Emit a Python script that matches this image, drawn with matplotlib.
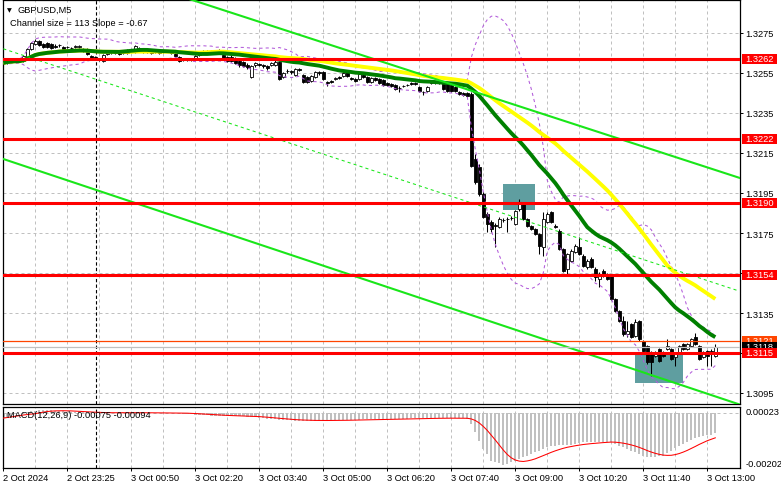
import numpy as np
import pandas as pd
import matplotlib
matplotlib.use("Agg")
import matplotlib.pyplot as plt
from matplotlib.patches import Rectangle

plt.rcParams['font.family'] = ['Liberation Sans', 'DejaVu Sans']

# ---------------- data ----------------
opens = [
1.32610, 1.32600, 1.32610, 1.32610, 1.32615, 1.32610, 1.32630, 1.32670, 1.32695, 1.32710,
1.32695, 1.32700, 1.32695, 1.32685, 1.32690, 1.32680, 1.32680, 1.32675, 1.32680, 1.32680,
1.32670, 1.32670, 1.32635, 1.32630, 1.32620, 1.32610, 1.32645, 1.32655, 1.32660, 1.32655,
1.32650, 1.32650, 1.32665, 1.32655, 1.32675, 1.32665, 1.32655, 1.32660, 1.32660, 1.32660,
1.32655, 1.32660, 1.32655, 1.32645, 1.32630, 1.32620, 1.32620, 1.32620, 1.32625, 1.32640,
1.32650, 1.32660, 1.32655, 1.32660, 1.32650, 1.32640, 1.32630, 1.32630, 1.32625, 1.32610,
1.32605, 1.32590, 1.32530, 1.32590, 1.32595, 1.32590, 1.32585, 1.32590, 1.32590, 1.32605,
1.32530, 1.32560, 1.32560, 1.32540, 1.32570, 1.32540, 1.32530, 1.32510, 1.32530, 1.32555,
1.32555, 1.32505, 1.32510, 1.32520, 1.32530, 1.32535, 1.32560, 1.32525, 1.32520, 1.32520,
1.32540, 1.32530, 1.32505, 1.32525, 1.32520, 1.32515, 1.32500, 1.32495, 1.32490, 1.32475,
1.32485, 1.32490, 1.32500, 1.32500, 1.32480, 1.32455, 1.32460, 1.32500, 1.32500, 1.32505,
1.32505, 1.32500, 1.32490, 1.32480, 1.32455, 1.32450, 1.32450, 1.32445, 1.32120, 1.32080,
1.31945, 1.31845, 1.31805, 1.31790, 1.31780, 1.31815, 1.31820, 1.31825, 1.31795, 1.31870,
1.31895, 1.31820, 1.31785, 1.31770, 1.31745, 1.31680, 1.31805, 1.31855, 1.31785, 1.31760,
1.31670, 1.31570, 1.31610, 1.31655, 1.31680, 1.31635, 1.31580, 1.31620, 1.31570, 1.31520,
1.31560, 1.31545, 1.31535, 1.31420, 1.31360, 1.31310, 1.31245, 1.31295, 1.31235, 1.31310,
1.31210, 1.31185, 1.31155, 1.31135, 1.31170, 1.31155, 1.31170, 1.31170, 1.31130, 1.31155,
1.31195, 1.31170, 1.31185, 1.31230, 1.31185, 1.31130, 1.31160, 1.31160, 1.31135]

highs = [
1.32620, 1.32620, 1.32620, 1.32625, 1.32625, 1.32640, 1.32675, 1.32705, 1.32720, 1.32715,
1.32700, 1.32705, 1.32700, 1.32695, 1.32695, 1.32685, 1.32685, 1.32680, 1.32690, 1.32690,
1.32675, 1.32675, 1.32640, 1.32635, 1.32625, 1.32645, 1.32660, 1.32660, 1.32665, 1.32660,
1.32660, 1.32670, 1.32670, 1.32690, 1.32680, 1.32670, 1.32670, 1.32665, 1.32665, 1.32665,
1.32660, 1.32665, 1.32660, 1.32650, 1.32635, 1.32625, 1.32625, 1.32625, 1.32640, 1.32650,
1.32665, 1.32665, 1.32665, 1.32665, 1.32670, 1.32645, 1.32635, 1.32640, 1.32630, 1.32620,
1.32610, 1.32600, 1.32590, 1.32605, 1.32600, 1.32595, 1.32590, 1.32605, 1.32615, 1.32610,
1.32555, 1.32570, 1.32565, 1.32575, 1.32575, 1.32545, 1.32535, 1.32540, 1.32560, 1.32560,
1.32560, 1.32510, 1.32515, 1.32530, 1.32535, 1.32555, 1.32565, 1.32530, 1.32525, 1.32550,
1.32545, 1.32535, 1.32530, 1.32530, 1.32525, 1.32520, 1.32505, 1.32500, 1.32495, 1.32485,
1.32490, 1.32495, 1.32505, 1.32505, 1.32485, 1.32460, 1.32485, 1.32510, 1.32510, 1.32510,
1.32510, 1.32505, 1.32495, 1.32485, 1.32460, 1.32455, 1.32455, 1.32455, 1.32145, 1.32095,
1.31955, 1.31855, 1.31815, 1.31800, 1.31830, 1.31825, 1.31830, 1.31835, 1.31865, 1.31920,
1.31905, 1.31825, 1.31790, 1.31775, 1.31750, 1.31855, 1.31855, 1.31860, 1.31795, 1.31770,
1.31675, 1.31650, 1.31670, 1.31695, 1.31730, 1.31645, 1.31620, 1.31630, 1.31580, 1.31555,
1.31570, 1.31550, 1.31540, 1.31425, 1.31365, 1.31335, 1.31310, 1.31300, 1.31320, 1.31315,
1.31215, 1.31190, 1.31160, 1.31160, 1.31175, 1.31160, 1.31220, 1.31175, 1.31155, 1.31190,
1.31200, 1.31200, 1.31225, 1.31250, 1.31190, 1.31160, 1.31165, 1.31170, 1.31195]

lows = [
1.32585, 1.32595, 1.32600, 1.32605, 1.32605, 1.32605, 1.32625, 1.32665, 1.32690, 1.32685,
1.32675, 1.32675, 1.32670, 1.32675, 1.32680, 1.32665, 1.32675, 1.32670, 1.32675, 1.32675,
1.32655, 1.32640, 1.32620, 1.32615, 1.32610, 1.32605, 1.32640, 1.32645, 1.32645, 1.32640,
1.32645, 1.32645, 1.32655, 1.32650, 1.32655, 1.32650, 1.32650, 1.32645, 1.32650, 1.32645,
1.32650, 1.32655, 1.32645, 1.32630, 1.32605, 1.32610, 1.32610, 1.32610, 1.32620, 1.32635,
1.32645, 1.32645, 1.32650, 1.32645, 1.32645, 1.32620, 1.32605, 1.32605, 1.32595, 1.32580,
1.32580, 1.32570, 1.32525, 1.32580, 1.32585, 1.32575, 1.32565, 1.32585, 1.32585, 1.32515,
1.32525, 1.32550, 1.32545, 1.32535, 1.32560, 1.32500, 1.32500, 1.32505, 1.32525, 1.32540,
1.32515, 1.32485, 1.32500, 1.32515, 1.32520, 1.32530, 1.32530, 1.32515, 1.32505, 1.32515,
1.32525, 1.32500, 1.32500, 1.32510, 1.32495, 1.32485, 1.32485, 1.32480, 1.32465, 1.32455,
1.32480, 1.32485, 1.32490, 1.32490, 1.32455, 1.32440, 1.32455, 1.32495, 1.32495, 1.32495,
1.32465, 1.32455, 1.32455, 1.32455, 1.32440, 1.32435, 1.32430, 1.32080, 1.31995, 1.31935,
1.31825, 1.31755, 1.31755, 1.31680, 1.31775, 1.31805, 1.31755, 1.31815, 1.31790, 1.31860,
1.31815, 1.31780, 1.31765, 1.31740, 1.31645, 1.31635, 1.31800, 1.31800, 1.31775, 1.31665,
1.31555, 1.31545, 1.31605, 1.31650, 1.31640, 1.31580, 1.31570, 1.31575, 1.31510, 1.31480,
1.31530, 1.31515, 1.31415, 1.31355, 1.31305, 1.31235, 1.31230, 1.31225, 1.31230, 1.31210,
1.31155, 1.31095, 1.31035, 1.31130, 1.31105, 1.31130, 1.31165, 1.31115, 1.31085, 1.31150,
1.31165, 1.31165, 1.31180, 1.31190, 1.31115, 1.31125, 1.31085, 1.31085, 1.31130]

closes = [
1.32600, 1.32610, 1.32610, 1.32615, 1.32610, 1.32635, 1.32670, 1.32700, 1.32710, 1.32690,
1.32680, 1.32680, 1.32675, 1.32680, 1.32690, 1.32670, 1.32680, 1.32675, 1.32685, 1.32685,
1.32660, 1.32645, 1.32625, 1.32620, 1.32620, 1.32640, 1.32655, 1.32655, 1.32650, 1.32645,
1.32655, 1.32665, 1.32660, 1.32685, 1.32660, 1.32655, 1.32665, 1.32650, 1.32655, 1.32650,
1.32655, 1.32660, 1.32650, 1.32635, 1.32610, 1.32615, 1.32615, 1.32615, 1.32635, 1.32645,
1.32660, 1.32650, 1.32660, 1.32650, 1.32665, 1.32625, 1.32610, 1.32610, 1.32600, 1.32590,
1.32585, 1.32580, 1.32585, 1.32600, 1.32590, 1.32585, 1.32575, 1.32600, 1.32605, 1.32520,
1.32550, 1.32560, 1.32555, 1.32570, 1.32565, 1.32505, 1.32505, 1.32535, 1.32555, 1.32550,
1.32520, 1.32500, 1.32505, 1.32525, 1.32525, 1.32550, 1.32535, 1.32520, 1.32510, 1.32545,
1.32530, 1.32505, 1.32525, 1.32515, 1.32500, 1.32490, 1.32490, 1.32485, 1.32470, 1.32475,
1.32485, 1.32490, 1.32495, 1.32495, 1.32460, 1.32455, 1.32480, 1.32505, 1.32505, 1.32500,
1.32470, 1.32460, 1.32460, 1.32460, 1.32445, 1.32440, 1.32435, 1.32085, 1.32005, 1.31945,
1.31830, 1.31795, 1.31770, 1.31785, 1.31820, 1.31815, 1.31820, 1.31825, 1.31860, 1.31905,
1.31820, 1.31785, 1.31770, 1.31745, 1.31685, 1.31820, 1.31845, 1.31805, 1.31780, 1.31670,
1.31560, 1.31645, 1.31660, 1.31685, 1.31645, 1.31585, 1.31610, 1.31580, 1.31530, 1.31545,
1.31535, 1.31520, 1.31420, 1.31360, 1.31310, 1.31245, 1.31260, 1.31230, 1.31305, 1.31220,
1.31160, 1.31105, 1.31105, 1.31155, 1.31110, 1.31135, 1.31185, 1.31120, 1.31145, 1.31185,
1.31170, 1.31195, 1.31220, 1.31195, 1.31120, 1.31155, 1.31135, 1.31155, 1.31180]

# MACD main histogram, in units of 0.00001
macd_hist_e5 = [
-19, -15, -10, -5, 0, 3, 5, 7, 8, 9,
9, 10, 9, 8, 7, 6, 5, 4, 3, 2,
2, 1, 1, 0, 0, 0, 0, 1, 1, 2,
2, 1, 1, 0, 0, 0, -1, -1, 0, 1,
1, 0, 0, -1, -2, -3, -4, -5, -6, -7,
-8, -9, -10, -10, -10, -11, -11, -11, -12, -12,
-13, -14, -15, -16, -18, -20, -22, -23, -24, -25,
-26, -27, -27, -28, -28, -28, -28, -28, -28, -28,
-28, -27, -27, -27, -27, -26, -26, -25, -25, -25,
-24, -24, -24, -23, -23, -23, -22, -22, -22, -21,
-21, -21, -20, -20, -20, -20, -20, -19, -19, -19,
-19, -19, -19, -20, -20, -20, -22, -41, -70, -103,
-133, -152, -176, -181, -185, -191, -188, -181, -176, -170,
-163, -158, -152, -144, -139, -133, -126, -122, -121, -119,
-118, -118, -117, -115, -111, -107, -107, -107, -107, -107,
-107, -107, -107, -115, -121, -126, -133, -139, -144, -152,
-158, -163, -163, -163, -160, -158, -148, -141, -129, -122,
-115, -107, -100, -93, -89, -85, -82, -80, -75]

time_labels = ["2 Oct 2024", "2 Oct 23:25", "3 Oct 00:50", "3 Oct 02:20", "3 Oct 03:40",
               "3 Oct 05:00", "3 Oct 06:20", "3 Oct 07:40", "3 Oct 09:00", "3 Oct 10:20",
               "3 Oct 11:40", "3 Oct 13:00"]
label_bars = [0, 16, 32, 48, 64, 80, 96, 112, 128, 144, 160, 176]
price_ticks = [1.3275, 1.3255, 1.3235, 1.3215, 1.3195, 1.3175, 1.3155, 1.3135, 1.3115, 1.3095]
support_resistance = [1.3262, 1.3222, 1.3190, 1.3154, 1.3115]
orange_level = 1.3121
bid_price = 1.3118
day_separator_bar = 23.1

# regression channel (price at bar 0 and bar 184)
channel_bars = [0, 184]
channel_upper = [1.33222, 1.32026]
channel_lower = [1.32120, 1.30893]
channel_mid = [1.32671, 1.314595]

# shaded zones: (bar_start, bar_end, price_low, price_high)
zones = [(124.85, 132.9, 1.31867, 1.31995),
         (157.9, 169.9, 1.31000, 1.31150)]

macd_top, macd_bottom = 0.00023, -0.00202

# ---------------- derived ----------------
o = np.array(opens); h = np.array(highs); l = np.array(lows); c = np.array(closes)
n = len(c)
x = np.arange(n)
cs = pd.Series(c)
ma_fast = cs.rolling(30, min_periods=1).mean()
ma_slow = cs.rolling(50, min_periods=1).mean()
bb_mid = cs.rolling(20, min_periods=1).mean()
bb_std = cs.rolling(20, min_periods=1).std(ddof=0).fillna(0)
bb_up = bb_mid + 2 * bb_std
bb_lo = bb_mid - 2 * bb_std
hist = np.array(macd_hist_e5) * 1e-5
signal = pd.Series(hist).rolling(9, min_periods=1).mean()

# ---------------- figure ----------------
W, H = 781, 489
fig = plt.figure(figsize=(W / 100, H / 100), dpi=100)
fig.patch.set_facecolor('white')

def rect(x0, y0, x1, y1):
    return [x0 / W, 1 - y1 / H, (x1 - x0) / W, (y1 - y0) / H]

ax = fig.add_axes(rect(2.7, 0.5, 740, 405))
axm = fig.add_axes(rect(2.7, 407.7, 740, 468.7))

xlim = (-0.15, 184.175)
ax.set_xlim(*xlim)
axm.set_xlim(*xlim)
ax.set_ylim(1.30895, 1.329175)
axm.set_ylim(macd_bottom, macd_top)

for a in (ax, axm):
    for s in a.spines.values():
        s.set_color('black')
        s.set_linewidth(0.9)

FS = 6.7
grid_kw = dict(color='#C0C0C0', lw=0.72, ls=(0, (3, 3)), zorder=0.5)
for gx in range(8, 184, 8):
    ax.axvline(gx, **grid_kw)
    axm.axvline(gx, **grid_kw)
for p in price_ticks:
    ax.axhline(p, **grid_kw)
axm.axhline(0, **grid_kw)

sep_kw = dict(color='black', lw=0.8, ls=(0, (3, 2)), zorder=0.8)
ax.axvline(day_separator_bar, **sep_kw)
axm.axvline(day_separator_bar, **sep_kw)

# zones
for b0, b1, p0, p1 in zones:
    ax.add_patch(Rectangle((b0, p0), b1 - b0, p1 - p0, facecolor='#5F9EA0',
                           edgecolor='none', zorder=1))

# candles
ax.vlines(x, l, h, color='black', lw=0.75, zorder=2)
bull = c >= o
body_bottom = np.minimum(o, c)
body_h = np.abs(c - o)
ax.bar(x[bull], body_h[bull], bottom=body_bottom[bull], width=0.72,
       color='white', edgecolor='black', linewidth=0.6, zorder=2.1)
ax.bar(x[~bull], body_h[~bull], bottom=body_bottom[~bull], width=0.72,
       color='black', edgecolor='black', linewidth=0.6, zorder=2.1)

# indicators
bb_kw = dict(color='#B25BDA', lw=0.75, ls=(0, (3, 3)), zorder=3)
ax.plot(x, bb_up, **bb_kw)
ax.plot(x, bb_lo, **bb_kw)
ax.plot(x, ma_slow, color='#FFFF00', lw=2.8, zorder=3.2, solid_capstyle='butt')
ax.plot(x, ma_fast, color='#008000', lw=2.8, zorder=3.4, solid_capstyle='butt')

# regression channel
lime = '#19E619'
ax.plot(channel_bars, channel_upper, color=lime, lw=1.5, zorder=4)
ax.plot(channel_bars, channel_lower, color=lime, lw=1.5, zorder=4)
ax.plot(channel_bars, channel_mid, color=lime, lw=0.75, ls=(0, (3, 3)), zorder=4)

# horizontal levels
for lv in support_resistance:
    ax.axhline(lv, color='#FF0000', lw=2.2, zorder=4.5)
ax.axhline(orange_level, color='#FF4500', lw=0.9, zorder=4.4)
ax.axhline(bid_price, color='#C0C0C0', lw=0.9, zorder=4.3)

# price axis
ax.yaxis.tick_right()
ax.set_yticks(price_ticks)
ax.set_yticklabels([f"{p:.4f}" for p in price_ticks])
ax.tick_params(axis='y', direction='out', length=2.2, width=0.7, pad=1.8,
               labelsize=FS, colors='black')
ax.set_xticks([])

# right tags
ytr = ax.get_yaxis_transform()
tag_x0 = 1.0022
tag_w = 0.0482
tag_h = 0.00048
def tag(price, face, z):
    ax.add_patch(Rectangle((tag_x0, price - tag_h / 2), tag_w, tag_h, transform=ytr,
                           facecolor=face, edgecolor='none', clip_on=False, zorder=z))
    ax.text(tag_x0 + tag_w / 2, price, f"{price:.4f}", transform=ytr, ha='center',
            va='center', color='white', fontsize=FS, clip_on=False, zorder=z + 0.05)

tag(1.3262, '#FF0000', 6)
tag(1.3222, '#FF0000', 6)
tag(1.3190, '#FF0000', 6)
tag(1.3154, '#FF0000', 6)
tag(orange_level, '#FF4500', 6.2)
tag(bid_price, '#000000', 6.4)
tag(1.3115, '#FF0000', 6.6)

# MACD panel
axm.bar(x, hist, width=0.6, color='#C0C0C0', zorder=2)
axm.plot(x, signal, color='#FF0000', lw=0.75, zorder=3)
axm.set_yticks([])
ytm = axm.get_yaxis_transform()
axm.text(1.0075, macd_top, f"{macd_top:.5f}", transform=ytm, ha='left', va='top',
         fontsize=FS, clip_on=False)
axm.text(1.0075, macd_bottom, f"{macd_bottom:.5f}", transform=ytm, ha='left', va='bottom',
         fontsize=FS, clip_on=False)
axm.set_xticks(label_bars)
axm.set_xticklabels(time_labels)
for lbl in axm.get_xticklabels():
    lbl.set_ha('left')
axm.tick_params(axis='x', direction='out', length=2.2, width=0.7, pad=1.5,
                labelsize=FS, colors='black')

# header texts
def ftext(px, py, s, **kw):
    fig.text(px / W, 1 - py / H, s, va='center', **kw)

ftext(7, 10.5, "\u25BC", fontsize=4.5, family=['DejaVu Sans'])
ftext(17, 10.5, "GBPUSD,M5", fontsize=FS)
ftext(10, 24, "Channel size = 113 Slope = -0.67", fontsize=FS)
ftext(7, 416, "MACD(12,26,9) -0.00075 -0.00094", fontsize=FS)

fig.savefig("out.png", dpi=100, facecolor='white')
